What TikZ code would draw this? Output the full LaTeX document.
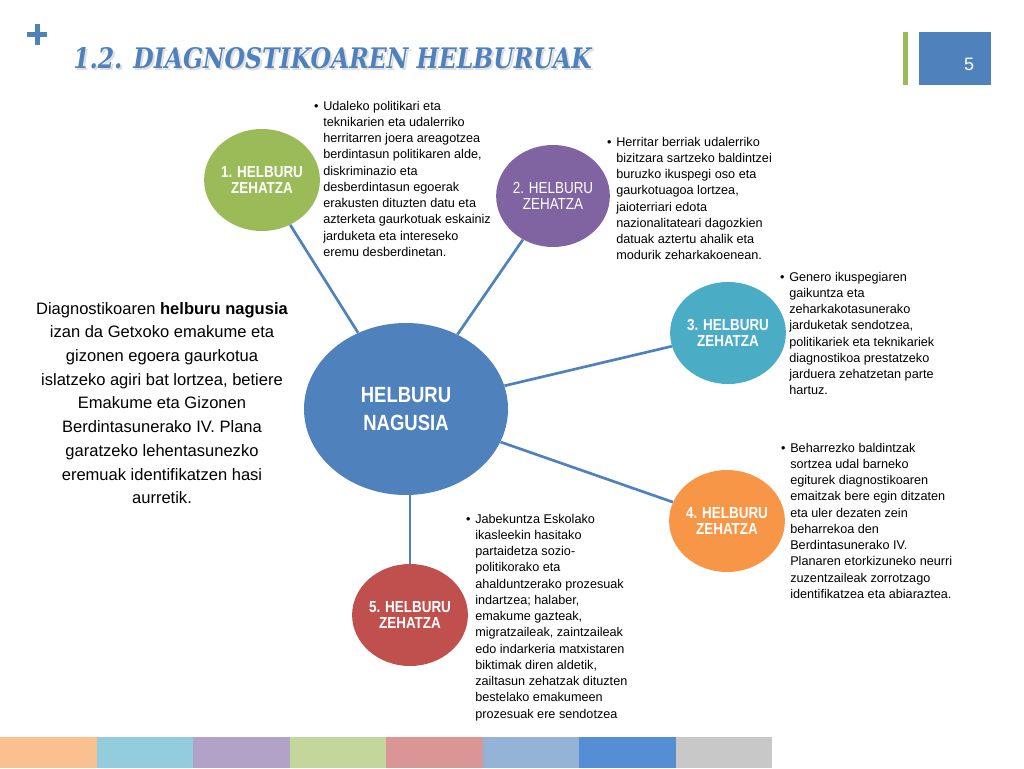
\documentclass[tikz,border=0pt]{standalone}
\usepackage{fontspec}
\usepackage{graphicx}
\setmainfont{Liberation Sans}
\newfontfamily\narrowfont[FakeStretch=0.84]{Liberation Sans}
\newfontfamily\titlefont{DejaVu Serif}
\usetikzlibrary{shapes.geometric}
\definecolor{cMain}{RGB}{79,129,189}
\definecolor{cGreen}{RGB}{155,187,89}
\definecolor{cPurple}{RGB}{128,100,162}
\definecolor{cTeal}{RGB}{75,172,198}
\definecolor{cOrange}{RGB}{247,150,70}
\definecolor{cRed}{RGB}{192,80,77}
\definecolor{bA}{RGB}{250,192,144}
\definecolor{bB}{RGB}{147,205,221}
\definecolor{bC}{RGB}{179,162,199}
\definecolor{bD}{RGB}{195,214,155}
\definecolor{bE}{RGB}{217,150,148}
\definecolor{bF}{RGB}{149,179,215}
\definecolor{bG}{RGB}{85,142,213}
\definecolor{bH}{RGB}{200,200,200}
\newcommand{\bul}{\leavevmode\llap{\textbullet\hspace{3.5pt}}}
\begin{document}
\begin{tikzpicture}[x=0.75pt,y=-0.75pt,
  hub/.style={ellipse, fill=cMain, draw=none, minimum width=153pt, minimum height=129pt,
    inner sep=0pt, text=white, align=center,
    font=\narrowfont\bfseries\fontsize{16.5}{21}\selectfont},
  goal/.style={ellipse, draw=none, inner sep=0pt, minimum width=84pt, minimum height=76.5pt,
    text=white, align=center, font=\narrowfont\bfseries\fontsize{12}{12.2}\selectfont},
  goalthin/.style={goal, font=\narrowfont\fontsize{12}{12.2}\selectfont},
  link/.style={draw=cMain, line width=2pt},
  desc/.style={anchor=base west, inner sep=0pt, font=\fontsize{9.5}{12.2}\selectfont}
]
\useasboundingbox (0,0) rectangle (1024,768);
\fill[white] (0,0) rectangle (1024,768);

% plus sign
\fill[cMain] (27,32) rectangle (47,37);
\fill[cMain] (34.5,24) rectangle (39.5,45);

% title with shadow
\node[anchor=base west, inner sep=0pt, text=black!13] (titleshadow) at (75,70)
  {\resizebox{389pt}{15.75pt}{\titlefont\bfseries\itshape 1.2. DIAGNOSTIKOAREN HELBURUAK}};
\node[anchor=base west, inner sep=0pt, text=cMain] (title) at (73,68)
  {\resizebox{389pt}{15.75pt}{\titlefont\bfseries\itshape 1.2. DIAGNOSTIKOAREN HELBURUAK}};

% page number
\fill[cGreen] (903,32) rectangle (908,85);
\fill[cMain] (919,32) rectangle (991,85);
\node[text=white, font=\fontsize{13.5}{15}\selectfont, inner sep=0pt] (pnum) at (969,64) {5};

% bottom color bar
\fill[bA] (0,737) rectangle (96.5,768);
\fill[bB] (96.5,737) rectangle (193,768);
\fill[bC] (193,737) rectangle (289.5,768);
\fill[bD] (289.5,737) rectangle (386,768);
\fill[bE] (386,737) rectangle (482.5,768);
\fill[bF] (482.5,737) rectangle (579,768);
\fill[bG] (579,737) rectangle (675.5,768);
\fill[bH] (675.5,737) rectangle (772,768);

% nodes
\node[hub] (hub) at (406,409) {HELBURU\\NAGUSIA};
\node[goal, fill=cGreen] (g1) at (262,180) {1. HELBURU\\ZEHATZA};
\node[goalthin, fill=cPurple] (g2) at (553,196) {2. HELBURU\\ZEHATZA};
\node[goal, fill=cTeal] (g3) at (728,333) {3. HELBURU\\ZEHATZA};
\node[goal, fill=cOrange] (g4) at (727,521) {4. HELBURU\\ZEHATZA};
\node[goal, fill=cRed] (g5) at (410,615) {5. HELBURU\\ZEHATZA};

% connectors
\draw[link] (hub) -- (g1);
\draw[link] (hub) -- (g2);
\draw[link] (hub) -- (g3);
\draw[link] (hub) -- (g4);
\draw[link] (g5.north) -- (g5.north |- hub.south);

% main text
\node[anchor=base, inner sep=0pt] (maintext) at (162,314)
 {\parbox[t]{200pt}{\centering\fontsize{12.4}{17.8}\selectfont
 Diagnostikoaren \textbf{helburu nagusia}\\
 izan da Getxoko emakume eta\\
 gizonen egoera gaurkotua\\
 islatzeko agiri bat lortzea, betiere\\
 Emakume eta Gizonen\\
 Berdintasunerako IV. Plana\\
 garatzeko lehentasunezko\\
 eremuak identifikatzen hasi\\
 aurretik.}};

% descriptions
\node[desc] (d1) at (323,110) {\parbox[t]{140pt}{\raggedright
 \bul Udaleko politikari eta\\
 teknikarien eta udalerriko\\
 herritarren joera areagotzea\\
 berdintasun politikaren alde,\\
 diskriminazio eta\\
 desberdintasun egoerak\\
 erakusten dituzten datu eta\\
 azterketa gaurkotuak eskainiz\\
 jarduketa eta intereseko\\
 eremu desberdinetan.}};

\node[desc] (d2) at (616,146) {\parbox[t]{140pt}{\raggedright
 \bul Herritar berriak udalerriko\\
 bizitzara sartzeko baldintzei\\
 buruzko ikuspegi oso eta\\
 gaurkotuagoa lortzea,\\
 jaioterriari edota\\
 nazionalitateari dagozkien\\
 datuak aztertu ahalik eta\\
 modurik zeharkakoenean.}};

\node[desc] (d3) at (789,281) {\parbox[t]{140pt}{\raggedright
 \bul Genero ikuspegiaren\\
 gaikuntza eta\\
 zeharkakotasunerako\\
 jarduketak sendotzea,\\
 politikariek eta teknikariek\\
 diagnostikoa prestatzeko\\
 jarduera zehatzetan parte\\
 hartuz.}};

\node[desc] (d4) at (790,452) {\parbox[t]{140pt}{\raggedright
 \bul Beharrezko baldintzak\\
 sortzea udal barneko\\
 egiturek diagnostikoaren\\
 emaitzak bere egin ditzaten\\
 eta uler dezaten zein\\
 beharrekoa den\\
 Berdintasunerako IV.\\
 Planaren etorkizuneko neurri\\
 zuzentzaileak zorrotzago\\
 identifikatzea eta abiaraztea.}};

\node[desc] (d5) at (475,523) {\parbox[t]{140pt}{\raggedright
 \bul Jabekuntza Eskolako\\
 ikasleekin hasitako\\
 partaidetza sozio-\\
 politikorako eta\\
 ahalduntzerako prozesuak\\
 indartzea; halaber,\\
 emakume gazteak,\\
 migratzaileak, zaintzaileak\\
 edo indarkeria matxistaren\\
 biktimak diren aldetik,\\
 zailtasun zehatzak dituzten\\
 bestelako emakumeen\\
 prozesuak ere sendotzea}};
\end{tikzpicture}
\end{document}
